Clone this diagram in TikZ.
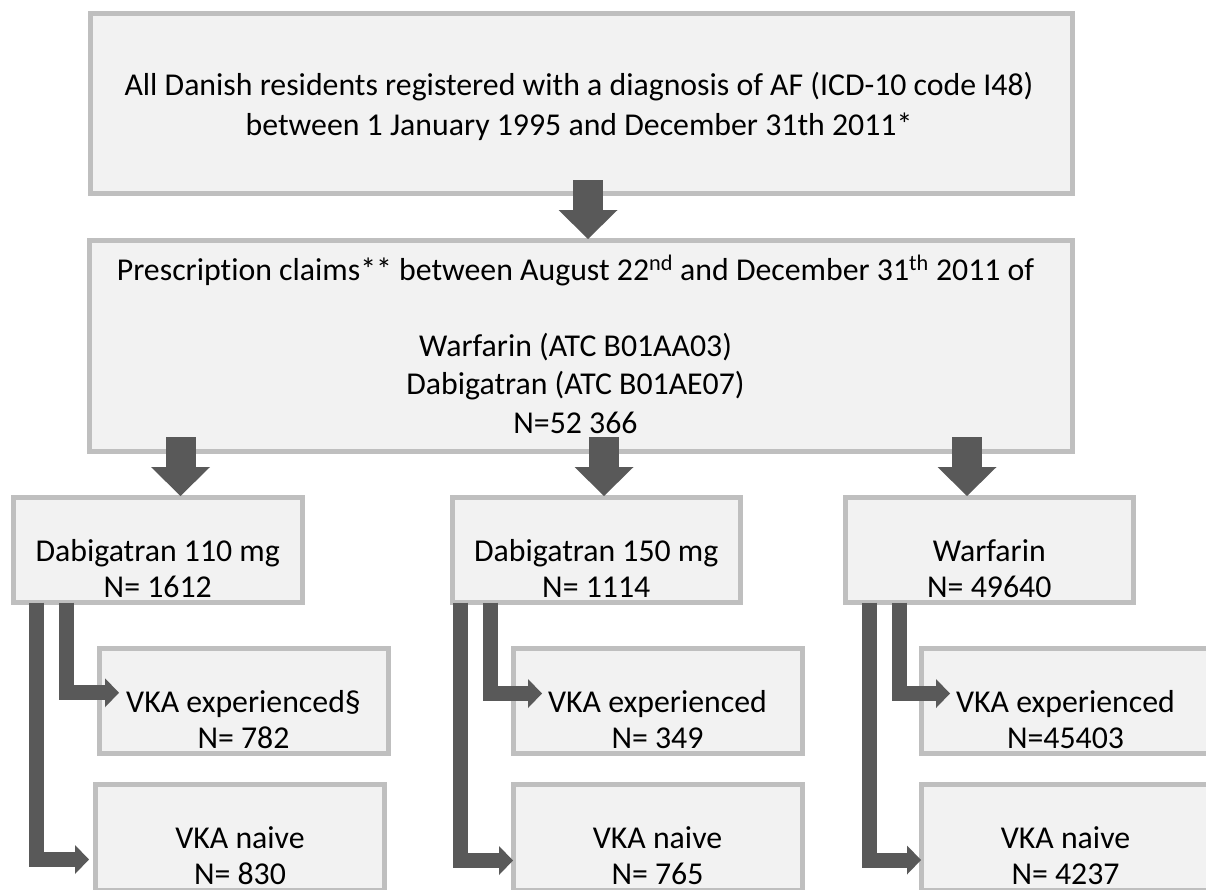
\documentclass[tikz,border=0pt]{standalone}
\usepackage{fontspec}
\setmainfont[Ligatures=NoCommon]{Carlito}
\usetikzlibrary{calc,arrows.meta}
\definecolor{boxfill}{HTML}{F2F2F2}
\definecolor{boxline}{HTML}{BFBFBF}
\definecolor{arrowgray}{HTML}{595959}

\begin{document}
\begin{tikzpicture}[x=1pt,y=-1pt]
	\tikzstyle{flow_box}=[draw=boxline, line width=5pt, fill=boxfill, rectangle, inner sep=0pt, outer sep=0pt];
	\tikzstyle{flow_txt}=[align=center, anchor=base, inner sep=0pt, font=\fontsize{31.8}{38.25}\selectfont];
	\tikzstyle{sub_txt}=[align=center, anchor=base, inner sep=0pt, font=\fontsize{31.8}{36}\selectfont];
	\tikzstyle{big_arrow}=[draw=arrowgray, line width=30pt, -{Triangle[width=59pt,length=29pt,line width=0pt]}];
	\tikzstyle{small_arrow}=[draw=arrowgray, line width=15pt, line join=miter, -{Triangle[width=29pt,length=14pt,line width=0pt]}];

	\useasboundingbox (0,0) rectangle (1206,889);
	\clip (0,0) rectangle (1206,889);

	\node[flow_box, minimum width=982pt, minimum height=180pt] (all_af) at (581,103.5) {};
	\node[flow_box, minimum width=983pt, minimum height=211.5pt] (presc) at (580.5,345.75) {};

	\node[flow_box, minimum width=288.5pt, minimum height=105.5pt] (d110) at (157.75,549.75) {};
	\node[flow_box, minimum width=288.5pt, minimum height=105.5pt] (d150) at (596.25,549.75) {};
	\node[flow_box, minimum width=288.5pt, minimum height=105.5pt] (warf) at (989.25,549.75) {};

	\node[flow_box, minimum width=289pt, minimum height=105.5pt] (exp1) at (243.5,700.75) {};
	\node[flow_box, minimum width=289pt, minimum height=105.5pt] (exp2) at (657.5,700.75) {};
	\node[flow_box, minimum width=289pt, minimum height=105.5pt] (exp3) at (1065.5,700.75) {};

	\node[flow_box, minimum width=289pt, minimum height=105.5pt] (naive1) at (240,837.25) {};
	\node[flow_box, minimum width=289pt, minimum height=105.5pt] (naive2) at (657.5,837.25) {};
	\node[flow_box, minimum width=289pt, minimum height=105.5pt] (naive3) at (1065.5,837.25) {};

	% texts, anchored at the baseline of the last line
	\node[flow_txt, font=\fontsize{31.8}{40}\selectfont] (all_af_t) at ($(all_af.north)+(-2,121.5)$) {All Danish residents registered with a diagnosis of AF (ICD-10 code I48)\\between 1 January 1995 and December 31th 2011*};
	\node[flow_txt] (presc_t) at ($(presc.north)+(-5,193)$) {Prescription claims** between August 22\textsuperscript{nd} and December 31\textsuperscript{th} 2011 of\\[38.25pt]Warfarin (ATC B01AA03)\\Dabigatran (ATC B01AE07)\\N=52 366};

	\node[sub_txt] (d110_t) at ($(d110.north)+(0,100)$) {Dabigatran 110 mg\\N= 1612};
	\node[sub_txt] (d150_t) at ($(d150.north)+(0,100)$) {Dabigatran 150 mg\\N= 1114};
	\node[sub_txt] (warf_t) at ($(warf.north)+(0,100)$) {Warfarin\\N= 49640};

	\node[sub_txt] (exp1_t) at ($(exp1.north)+(0,100)$) {VKA experienced§\\N= 782};
	\node[sub_txt] (exp2_t) at ($(exp2.north)+(0,100)$) {VKA experienced\\N= 349};
	\node[sub_txt] (exp3_t) at ($(exp3.north)+(0,100)$) {VKA experienced\\N=45403};

	\node[sub_txt] (naive1_t) at ($(naive1.north)+(0,100)$) {VKA naive\\N= 830};
	\node[sub_txt] (naive2_t) at ($(naive2.north)+(0,100)$) {VKA naive\\N= 765};
	\node[sub_txt] (naive3_t) at ($(naive3.north)+(0,100)$) {VKA naive\\N= 4237};

	% block arrows
	\draw[big_arrow] ($(all_af.south)+(7,-13.5)$) -- ($(presc.north)+(7.5,-1)$);
	\draw[big_arrow] ($(presc.south -| d110.north)+(22.75,-14.5)$) -- ($(d110.north)+(22.75,-1)$);
	\draw[big_arrow] ($(presc.south -| d150.north)+(7.75,-14.5)$) -- ($(d150.north)+(7.75,-1)$);
	\draw[big_arrow] ($(presc.south -| warf.north)+(-22.25,-14.5)$) -- ($(warf.north)+(-22.25,-1)$);

	\draw[small_arrow] ($(d110.south)+(-91.25,0)$) |- ($(exp1.west)+(20,-8)$);
	\draw[small_arrow] ($(d110.south)+(-121.25,0)$) |- ($(naive1.west)+(-6.5,22.25)$);
	\draw[small_arrow] ($(d150.south)+(-105.75,0)$) |- ($(exp2.west)+(29,-7.25)$);
	\draw[small_arrow] ($(d150.south)+(-136.25,0)$) |- ($(naive2.west)+(0,23.25)$);
	\draw[small_arrow] ($(warf.south)+(-90.25,0)$) |- ($(exp3.west)+(29,-7.25)$);
	\draw[small_arrow] ($(warf.south)+(-120.25,0)$) |- ($(naive3.west)+(0,22.75)$);

\end{tikzpicture}
\end{document}
